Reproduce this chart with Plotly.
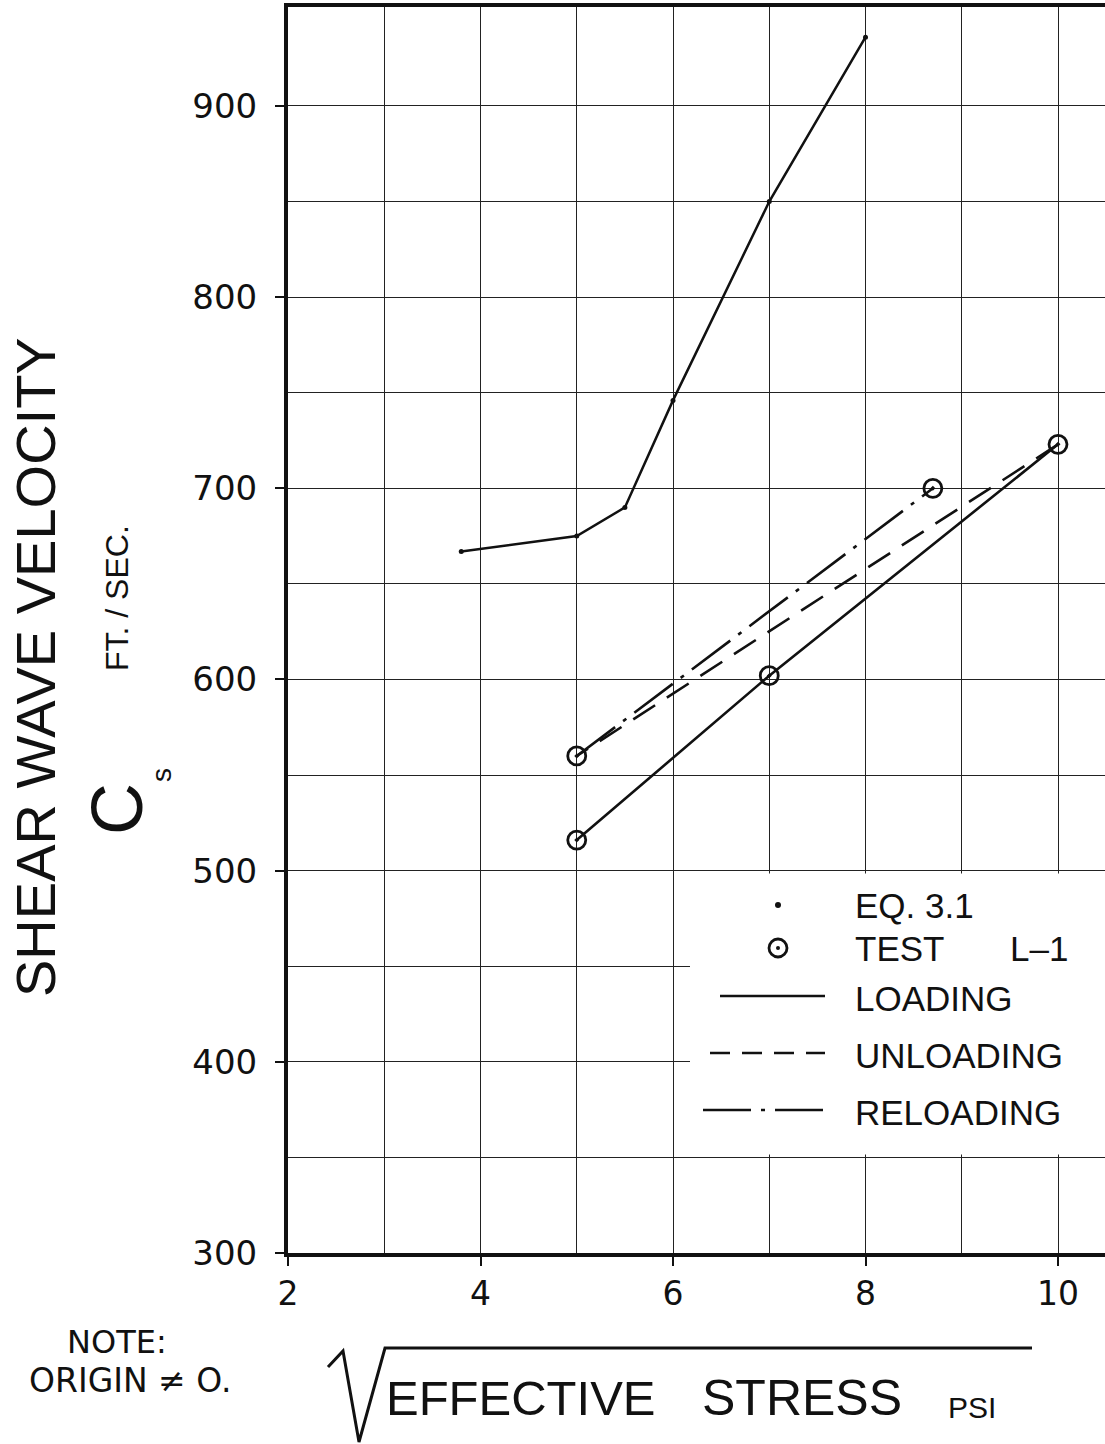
import plotly.graph_objects as go

# ---------------- data ----------------
eq_x = [3.8, 5.0, 5.5, 6.0, 7.0, 8.0]
eq_y = [667, 675, 690, 746, 850, 936]

loading_x = [5.0, 7.0, 10.0]
loading_y = [516, 602, 723]

unloading_x = [10.0, 5.0]
unloading_y = [723, 560]

reloading_x = [5.0, 8.7]
reloading_y = [560, 700]

test_x = [5.0, 5.0, 7.0, 8.7, 10.0]
test_y = [516, 560, 602, 700, 723]

x_tickvals = [2, 4, 6, 8, 10]
x_minor = [3, 5, 7, 9]
y_tickvals = [300, 400, 500, 600, 700, 800, 900]
y_minor = [350, 450, 550, 650, 750, 850]

# ---------------- geometry ----------------
W, H = 1105, 1444
L, R, T, B = 288, 1105, 7, 1253
XS = 96.25      # px per x unit
YS = 1.9117     # px per y unit
X_MIN, X_MAX = 2, 2 + (R - L) / XS
Y_MIN, Y_MAX = 300, 300 + (B - T) / YS


def px(xp):
    return (xp - L) / (R - L)


def py(yp):
    return (B - yp) / (B - T)


BLACK = "#111111"
FONT_T = "Liberation Sans, Arial, sans-serif"
FONT_N = "DejaVu Sans, sans-serif"

fig = go.Figure()

fig.add_trace(go.Scatter(x=eq_x, y=eq_y, mode="lines+markers",
                         line=dict(color=BLACK, width=2.5),
                         marker=dict(size=5, color=BLACK),
                         name="EQ. 3.1", showlegend=False))
fig.add_trace(go.Scatter(x=loading_x, y=loading_y, mode="lines",
                         line=dict(color=BLACK, width=2.6),
                         name="LOADING", showlegend=False))
fig.add_trace(go.Scatter(x=unloading_x, y=unloading_y, mode="lines",
                         line=dict(color=BLACK, width=2.6, dash="26px,14px"),
                         name="UNLOADING", showlegend=False))
fig.add_trace(go.Scatter(x=reloading_x, y=reloading_y, mode="lines",
                         line=dict(color=BLACK, width=2.6, dash="48px,10px,4px,10px"),
                         name="RELOADING", showlegend=False))
fig.add_trace(go.Scatter(x=test_x, y=test_y, mode="markers",
                         marker=dict(symbol="circle-open-dot", size=18, color=BLACK,
                                     line=dict(width=2.8, color=BLACK)),
                         name="TEST L-1", showlegend=False))

fig.update_layout(
    width=W, height=H,
    margin=dict(l=L, r=W - R, t=T, b=H - B, pad=0),
    paper_bgcolor="white", plot_bgcolor="white",
    showlegend=False,
    xaxis=dict(range=[X_MIN, X_MAX], tickvals=x_tickvals, ticktext=[str(v) for v in x_tickvals],
               ticks="outside", ticklen=9, tickwidth=2, tickcolor=BLACK,
               showgrid=True, gridcolor="#222222", gridwidth=1.4,
               minor=dict(tickvals=x_minor, showgrid=True, gridcolor="#222222", gridwidth=1.4, ticks=""),
               showline=True, linecolor=BLACK, linewidth=3.5, mirror=True,
               zeroline=False, ticklabelstandoff=0,
               tickfont=dict(family=FONT_N, size=33, color=BLACK)),
    yaxis=dict(range=[Y_MIN, Y_MAX], tickvals=y_tickvals, ticktext=[str(v) for v in y_tickvals],
               ticks="outside", ticklen=9, tickwidth=2, tickcolor=BLACK,
               showgrid=True, gridcolor="#222222", gridwidth=1.4,
               minor=dict(tickvals=y_minor, showgrid=True, gridcolor="#222222", gridwidth=1.4, ticks=""),
               showline=True, linecolor=BLACK, linewidth=4, mirror=False,
               zeroline=False, ticklabelstandoff=11,
               tickfont=dict(family=FONT_N, size=34, color=BLACK)),
)

shapes = []
# legend panel (hides the grid behind it)
shapes.append(dict(type="rect", xref="x", yref="y", x0=2 + (690 - L) / XS, x1=X_MAX,
                   y0=351.5, y1=498.5, fillcolor="white", line=dict(width=0), layer="above"))
# legend samples
shapes.append(dict(type="line", xref="paper", yref="paper", x0=px(720), x1=px(825),
                   y0=py(996), y1=py(996), line=dict(color=BLACK, width=2.6)))
shapes.append(dict(type="line", xref="paper", yref="paper", x0=px(710), x1=px(825),
                   y0=py(1053), y1=py(1053), line=dict(color=BLACK, width=2.6, dash="20px,12px")))
shapes.append(dict(type="line", xref="paper", yref="paper", x0=px(703), x1=px(825),
                   y0=py(1110), y1=py(1110), line=dict(color=BLACK, width=2.6, dash="48px,10px,4px,10px")))
shapes.append(dict(type="circle", xref="paper", yref="paper", x0=px(775), x1=px(781),
                   y0=py(908), y1=py(902), fillcolor=BLACK, line=dict(width=0)))
shapes.append(dict(type="circle", xref="paper", yref="paper", x0=px(769), x1=px(787),
                   y0=py(957), y1=py(939), line=dict(color=BLACK, width=2.8)))
shapes.append(dict(type="circle", xref="paper", yref="paper", x0=px(776), x1=px(780),
                   y0=py(950), y1=py(946), fillcolor=BLACK, line=dict(width=0)))
# radical sign and overline for the x title
pts = [(328, 1367), (343, 1351), (359, 1442), (385, 1348), (1032, 1348)]
path = "M " + " L ".join(f"{px(a):.5f},{py(b):.5f}" for a, b in pts)
shapes.append(dict(type="path", xref="paper", yref="paper", path=path,
                   line=dict(color=BLACK, width=3)))
fig.update_layout(shapes=shapes)

ann = []


def text(t, x, y, size, family=FONT_T, angle=0, xanchor="center", yanchor="middle"):
    ann.append(dict(text=t, x=px(x), y=py(y), xref="paper", yref="paper", showarrow=False,
                    textangle=angle, xanchor=xanchor, yanchor=yanchor,
                    font=dict(family=family, size=size, color=BLACK)))


text("SHEAR WAVE VELOCITY", 35, 667, 56, angle=-90)
text("C", 117, 809, 72, angle=-90)
text("s", 161, 775, 28, angle=-90)
text("FT. / SEC.", 117, 598, 32, angle=-90)

text("EQ. 3.1", 853, 905, 35, xanchor="left")
text("TEST", 853, 948, 35, xanchor="left")
text("L–1", 1008, 948, 35, xanchor="left")
text("LOADING", 853, 998, 35, xanchor="left")
text("UNLOADING", 853, 1055, 35, xanchor="left")
text("RELOADING", 853, 1112, 35, xanchor="left")

text("EFFECTIVE", 384, 1398, 49, xanchor="left")
text("STRESS", 700, 1398, 50, xanchor="left")
text("PSI", 946, 1408, 30, xanchor="left")

text("NOTE:", 117, 1342, 32, family=FONT_N)
text("ORIGIN ≠ O.", 130, 1380, 33, family=FONT_N)

fig.update_layout(annotations=ann)

fig.write_html("out.html")
